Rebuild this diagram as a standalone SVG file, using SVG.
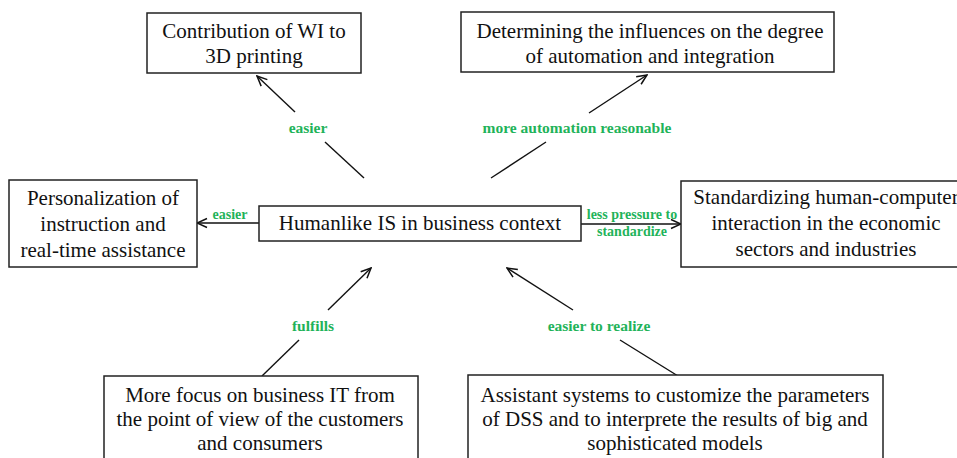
<svg xmlns="http://www.w3.org/2000/svg" width="957" height="458" viewBox="0 0 957 458">
  <style>
    .box { fill: #ffffff; stroke: #222222; stroke-width: 1.5; }
    .txt { font-family: "Liberation Serif", "Times New Roman", serif; font-size: 21px; fill: #111111; text-anchor: middle; }
    .lbl { font-family: "Liberation Serif", "Times New Roman", serif; font-weight: bold; font-size: 15.5px; fill: #1fb35a; text-anchor: middle; }
    .lbl-s { font-size: 14px; }
    .edge { stroke: #111111; stroke-width: 1.4; fill: none; }
  </style>
  <defs>
    <marker id="open-arrow" markerUnits="userSpaceOnUse" markerWidth="12" markerHeight="12" viewBox="0 0 12 12" refX="11" refY="6" orient="auto">
      <path d="M1,1.5 L11,6 L1,10.5" fill="none" stroke="#111111" stroke-width="1.5"/>
    </marker>
  </defs>
  <rect width="957" height="458" fill="#ffffff"/>

  <!-- connectors -->
  <g id="connectors">
    <!-- centre to "Contribution of WI" -->
    <line class="edge" x1="364" y1="178" x2="325" y2="142"/>
    <line class="edge" x1="295" y1="112" x2="257" y2="76" marker-end="url(#open-arrow)"/>
    <text class="lbl" x="308" y="133">easier</text>
    <!-- centre to "Determining the influences" -->
    <line class="edge" x1="491" y1="178" x2="546" y2="142"/>
    <line class="edge" x1="589" y1="113" x2="647" y2="75" marker-end="url(#open-arrow)"/>
    <text class="lbl" x="577" y="133">more automation reasonable</text>
    <!-- centre to "Personalization" -->
    <line class="edge" x1="259" y1="223" x2="197" y2="223" marker-end="url(#open-arrow)"/>
    <text class="lbl lbl-s" x="230" y="219">easier</text>
    <!-- centre to "Standardizing" -->
    <line class="edge" x1="581" y1="224" x2="681" y2="224" marker-end="url(#open-arrow)"/>
    <text class="lbl lbl-s" x="632" y="219">less pressure to</text>
    <text class="lbl lbl-s" x="632" y="236">standardize</text>
    <!-- "More focus" to centre -->
    <line class="edge" x1="262" y1="376" x2="299" y2="340"/>
    <line class="edge" x1="328" y1="310" x2="371" y2="268" marker-end="url(#open-arrow)"/>
    <text class="lbl" x="313" y="331">fulfills</text>
    <!-- "Assistant systems" to centre -->
    <line class="edge" x1="678" y1="376" x2="620" y2="340"/>
    <line class="edge" x1="573" y1="310" x2="507" y2="268" marker-end="url(#open-arrow)"/>
    <text class="lbl" x="599" y="331">easier to realize</text>
  </g>

  <g id="node-contribution">
    <rect class="box" x="147" y="13" width="214" height="60"/>
    <text class="txt" x="254" y="38">Contribution of WI to</text>
    <text class="txt" x="254" y="63">3D printing</text>
  </g>

  <g id="node-determining">
    <rect class="box" x="461" y="12" width="373" height="60"/>
    <text class="txt" x="650" y="38">Determining the influences on the degree</text>
    <text class="txt" x="650" y="63">of automation and integration</text>
  </g>

  <g id="node-personalization">
    <rect class="box" x="9" y="180" width="188" height="87"/>
    <text class="txt" x="103" y="205">Personalization of</text>
    <text class="txt" x="103" y="231">instruction and</text>
    <text class="txt" x="103" y="257">real-time assistance</text>
  </g>

  <g id="node-humanlike">
    <rect class="box" x="259" y="206" width="322" height="35"/>
    <text class="txt" x="420" y="230">Humanlike IS in business context</text>
  </g>

  <g id="node-standardizing">
    <rect class="box" x="681" y="181" width="292" height="86"/>
    <text class="txt" x="826" y="204">Standardizing human-computer</text>
    <text class="txt" x="826" y="230">interaction in the economic</text>
    <text class="txt" x="826" y="256">sectors and industries</text>
  </g>

  <g id="node-focus">
    <rect class="box" x="104" y="376" width="314" height="100"/>
    <text class="txt" x="260" y="402">More focus on business IT from</text>
    <text class="txt" x="260" y="426">the point of view of the customers</text>
    <text class="txt" x="260" y="450">and consumers</text>
  </g>

  <g id="node-assistant">
    <rect class="box" x="468" y="375" width="415" height="100"/>
    <text class="txt" x="675" y="402">Assistant systems to customize the parameters</text>
    <text class="txt" x="675" y="426">of DSS and to interprete the results of big and</text>
    <text class="txt" x="675" y="450">sophisticated models</text>
  </g>
</svg>
